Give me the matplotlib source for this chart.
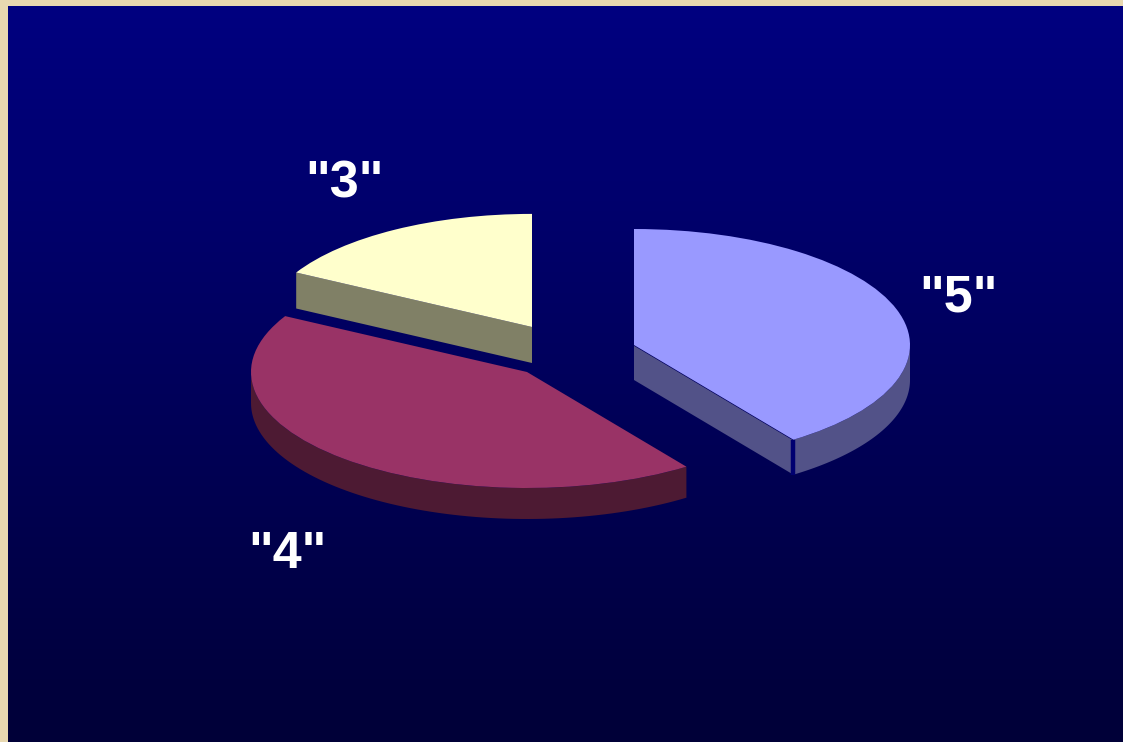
import numpy as np
import matplotlib
matplotlib.use('Agg')
import matplotlib.pyplot as plt

labels = ['"3"', '"4"', '"5"']
values = [17, 42.8, 40.2]

top_colors = ['#FFFFCC', '#993366', '#9999FF']
side_colors = ['#808066', '#4D1A33', '#525288']

W, H = 1123, 742
RX, RY = 276.0, 116.0  # pie radius on screen, pixels


def px(x, y):
    # pixel position in the picture -> data units (1 unit = one pie radius)
    return x / RX, (H - y) / RY


# apex of each slice, radius, depth of the side, label position (pixels)
apex = [(532, 327), (527, 372), (634, 345)]
radius = [0.975, 1.0, 1.0]
depth = [36, 31, 35]
label_pos = [(344, 197), (287, 568), (958, 312)]

fig = plt.figure(figsize=(W / 100, H / 100), dpi=100, facecolor='#E8D8B0')

bg = fig.add_axes([8 / W, 0, 1 - 8 / W, 1 - 6 / H])
grad = np.linspace(0, 1, 256).reshape(-1, 1)
cmap = matplotlib.colors.LinearSegmentedColormap.from_list('bg', ['#000080', '#000038'])
bg.imshow(grad, aspect='auto', cmap=cmap)
bg.axis('off')

ax = fig.add_axes([0, 0, 1, 1])
wedges, _ = ax.pie(values, colors=top_colors, startangle=90, counterclock=True,
                   wedgeprops={'linewidth': 0, 'zorder': 3})
ax.set_aspect('auto')
ax.set_xlim(0, W / RX)
ax.set_ylim(0, H / RY)

for w, a, r in zip(wedges, apex, radius):
    w.set_center(px(*a))
    w.set_radius(r)

# sides of the slices: outer rim and the cut face that looks at the viewer
for i, w in enumerate(wedges):
    cx, cy = px(*apex[i])
    r = radius[i]
    d = depth[i] / RY
    t1, t2 = np.radians(w.theta1), np.radians(w.theta2)

    if labels[i] == '"3"':
        # only the cut face shows
        ex, ey = cx + r * np.cos(t2), cy + r * np.sin(t2)
        ax.fill([cx, ex, ex, cx], [cy, ey, ey - d, cy - d], color=side_colors[i], lw=0, zorder=1)
    elif labels[i] == '"4"':
        t = np.linspace(np.radians(180), t2, 80)
        xs, ys = cx + r * np.cos(t), cy + r * np.sin(t)
        ax.fill(np.r_[xs, xs[::-1]], np.r_[ys, ys[::-1] - d], color=side_colors[i], lw=0, zorder=1)
    else:
        t = np.linspace(t1, np.radians(360), 80)
        xs, ys = cx + r * np.cos(t), cy + r * np.sin(t)
        ax.fill(np.r_[xs, xs[::-1]], np.r_[ys, ys[::-1] - d], color=side_colors[i], lw=0, zorder=1)
        ex, ey = xs[0], ys[0]
        ax.fill([cx, ex, ex, cx], [cy, ey, ey - d, cy - d], color=side_colors[i], lw=0, zorder=1)
        # dark seam between face and rim, and along the top edge
        ax.plot([ex, ex], [ey, ey - d], color='#000070', lw=3.2, solid_capstyle='butt', zorder=2)
        ax.plot([cx, ex], [cy, ey], color='#000060', lw=1, zorder=2)

for lab, (lx, ly) in zip(labels, label_pos):
    x, y = px(lx, ly)
    ax.text(x, y, lab, color='white', fontsize=37.5, fontweight='bold',
            family='Liberation Sans', ha='center', va='baseline', zorder=5)

fig.savefig('out.png', dpi=100, facecolor=fig.get_facecolor())
